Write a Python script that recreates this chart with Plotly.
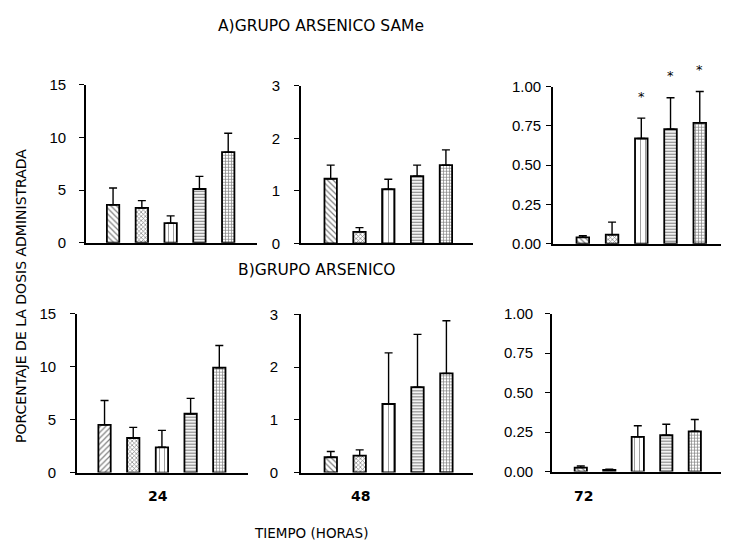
import plotly.graph_objects as go

# ---------------- data ----------------
groups = [0, 1, 2, 3, 4]  # five treatment bars per panel

a24_vals = [3.6, 3.3, 1.85, 5.1, 8.6]
a24_errs = [1.6, 0.7, 0.7, 1.2, 1.8]
a48_vals = [1.23, 0.22, 1.03, 1.28, 1.49]
a48_errs = [0.26, 0.08, 0.19, 0.21, 0.29]
a72_vals = [0.04, 0.057, 0.67, 0.73, 0.77]
a72_errs = [0.01, 0.08, 0.13, 0.20, 0.20]
a72_signif = [False, False, True, True, True]

b24_vals = [4.5, 3.26, 2.38, 5.55, 9.9]
b24_errs = [2.3, 1.0, 1.6, 1.45, 2.1]
b48_vals = [0.29, 0.32, 1.30, 1.62, 1.88]
b48_errs = [0.11, 0.11, 0.97, 1.0, 1.0]
b72_vals = [0.025, 0.01, 0.22, 0.23, 0.255]
b72_errs = [0.01, 0.005, 0.07, 0.07, 0.075]
b72_signif = [False, False, False, False, False]

time_labels = ["24", "48", "72"]
title_a = "A)GRUPO ARSENICO SAMe"
title_b = "B)GRUPO ARSENICO"
x_title = "TIEMPO (HORAS)"
y_title = "PORCENTAJE DE LA DOSIS ADMINISTRADA"

# ---------------- layout helpers ----------------
WIN_W, WIN_H = 729, 549
OFF = 8                      # page body margin
W, H = WIN_W - OFF, WIN_H - OFF   # figure fills the window after the body margin
FONT = "DejaVu Sans"
TICK_FONT = "Liberation Sans"

def px_x(p):
    return (p - OFF) / W

def px_y(p):
    return 1 - (p - OFF) / H

SH = ["\\", "x", "|", "-", "+"]
panels = [
    dict(vals=a24_vals, errs=a24_errs, sig=None, box=(86, 257, 241, 78), xr=[-0.94, 5.0], ymax=15, dt=5, fmt="d", stand=10, shapes=SH),
    dict(vals=a48_vals, errs=a48_errs, sig=None, box=(301, 473, 241.7, 79), xr=[-1.03, 4.94], ymax=3, dt=1, fmt="d", stand=11, shapes=SH),
    dict(vals=a72_vals, errs=a72_errs, sig=a72_signif, box=(553, 729, 242, 80), xr=[-1.02, 5.0], ymax=1, dt=0.25, fmt=".2f", stand=2, shapes=SH),
    dict(vals=b24_vals, errs=b24_errs, sig=None, box=(77, 248, 478.3, 314.3), xr=[-0.96, 5.0], ymax=15, dt=5, fmt="d", stand=11,
         shapes=["/", "x", "|", "-", "+"]),
    dict(vals=b48_vals, errs=b48_errs, sig=None, box=(301, 473, 478.3, 315), xr=[-1.03, 4.92], ymax=3, dt=1, fmt="d", stand=13, shapes=SH),
    dict(vals=b72_vals, errs=b72_errs, sig=b72_signif, box=(552, 729, 477.3, 314.3), xr=[-1.01, 5.2], ymax=1, dt=0.25, fmt=".2f", stand=9, shapes=SH),
]

pattern_sizes = [4, 3, 5, 3, 3]
pattern_solid = [0.3, 0.4, 0.15, 0.4, 0.4]

fig = go.Figure()
annotations = []
layout_axes = {}

for i, p in enumerate(panels):
    n = "" if i == 0 else str(i + 1)
    xa, ya = "x" + n, "y" + n
    xl, xrgt, y0, ytop = p["box"]
    fig.add_trace(go.Bar(
        x=groups, y=p["vals"], xaxis=xa, yaxis=ya,
        width=0.43,
        marker=dict(
            color="white",
            line=dict(color="black", width=1.8),
            pattern=dict(shape=p["shapes"], size=pattern_sizes, solidity=pattern_solid,
                         fgcolor="black", bgcolor="white"),
        ),
        error_y=dict(type="data", symmetric=False, array=p["errs"], arrayminus=[0] * len(p["errs"]),
                     color="black", thickness=1.4, width=4),
        showlegend=False,
    ))
    if p["sig"]:
        for g, v, e, s in zip(groups, p["vals"], p["errs"], p["sig"]):
            if s:
                annotations.append(dict(x=g, y=v + e, xref=xa, yref=ya, text="*", showarrow=False,
                                        xanchor="center", yanchor="middle",
                                        yshift=22, font=dict(family=FONT, size=13, color="black")))
    ticks = []
    t = 0.0
    while t <= p["ymax"] + 1e-9:
        ticks.append(round(t, 4))
        t += p["dt"]
    layout_axes["xaxis" + n] = dict(
        domain=[px_x(xl), min(1, px_x(xrgt))], range=p["xr"], anchor=ya,
        showline=True, linecolor="black", linewidth=1.8, showticklabels=False, ticks="",
        showgrid=False, zeroline=False, fixedrange=True,
    )
    layout_axes["yaxis" + n] = dict(
        domain=[px_y(y0), px_y(ytop)], range=[0, p["ymax"]], anchor=xa,
        showline=True, linecolor="black", linewidth=1.8, ticks="outside", ticklen=5, tickwidth=1.4,
        tickcolor="black", tickvals=ticks, tickformat=p["fmt"], ticklabelstandoff=p["stand"],
        tickfont=dict(family=TICK_FONT, size=15, color="black"),
        showgrid=False, zeroline=False, fixedrange=True,
    )

def label(x, y, text, size, angle=0):
    return dict(x=px_x(x), y=px_y(y), xref="paper", yref="paper", text=text, showarrow=False,
                xanchor="center", yanchor="middle", textangle=angle,
                font=dict(family=FONT, size=size, color="black"))

annotations += [
    label(321, 17, title_a, 15.5),
    label(316, 269, title_b, 15.5),
    label(311, 541, x_title, 13.5),
    label(21, 296, y_title, 14, -90),
]
for lbl, xp in zip(time_labels, [158, 360, 583]):
    annotations.append(label(xp, 503, "<b>" + lbl + "</b>", 14))

fig.update_layout(
    width=W, height=H, margin=dict(l=0, r=0, t=0, b=0),
    paper_bgcolor="white", plot_bgcolor="white",
    annotations=annotations, bargap=0.5,
    **layout_axes,
)

fig.write_html("out.html")
